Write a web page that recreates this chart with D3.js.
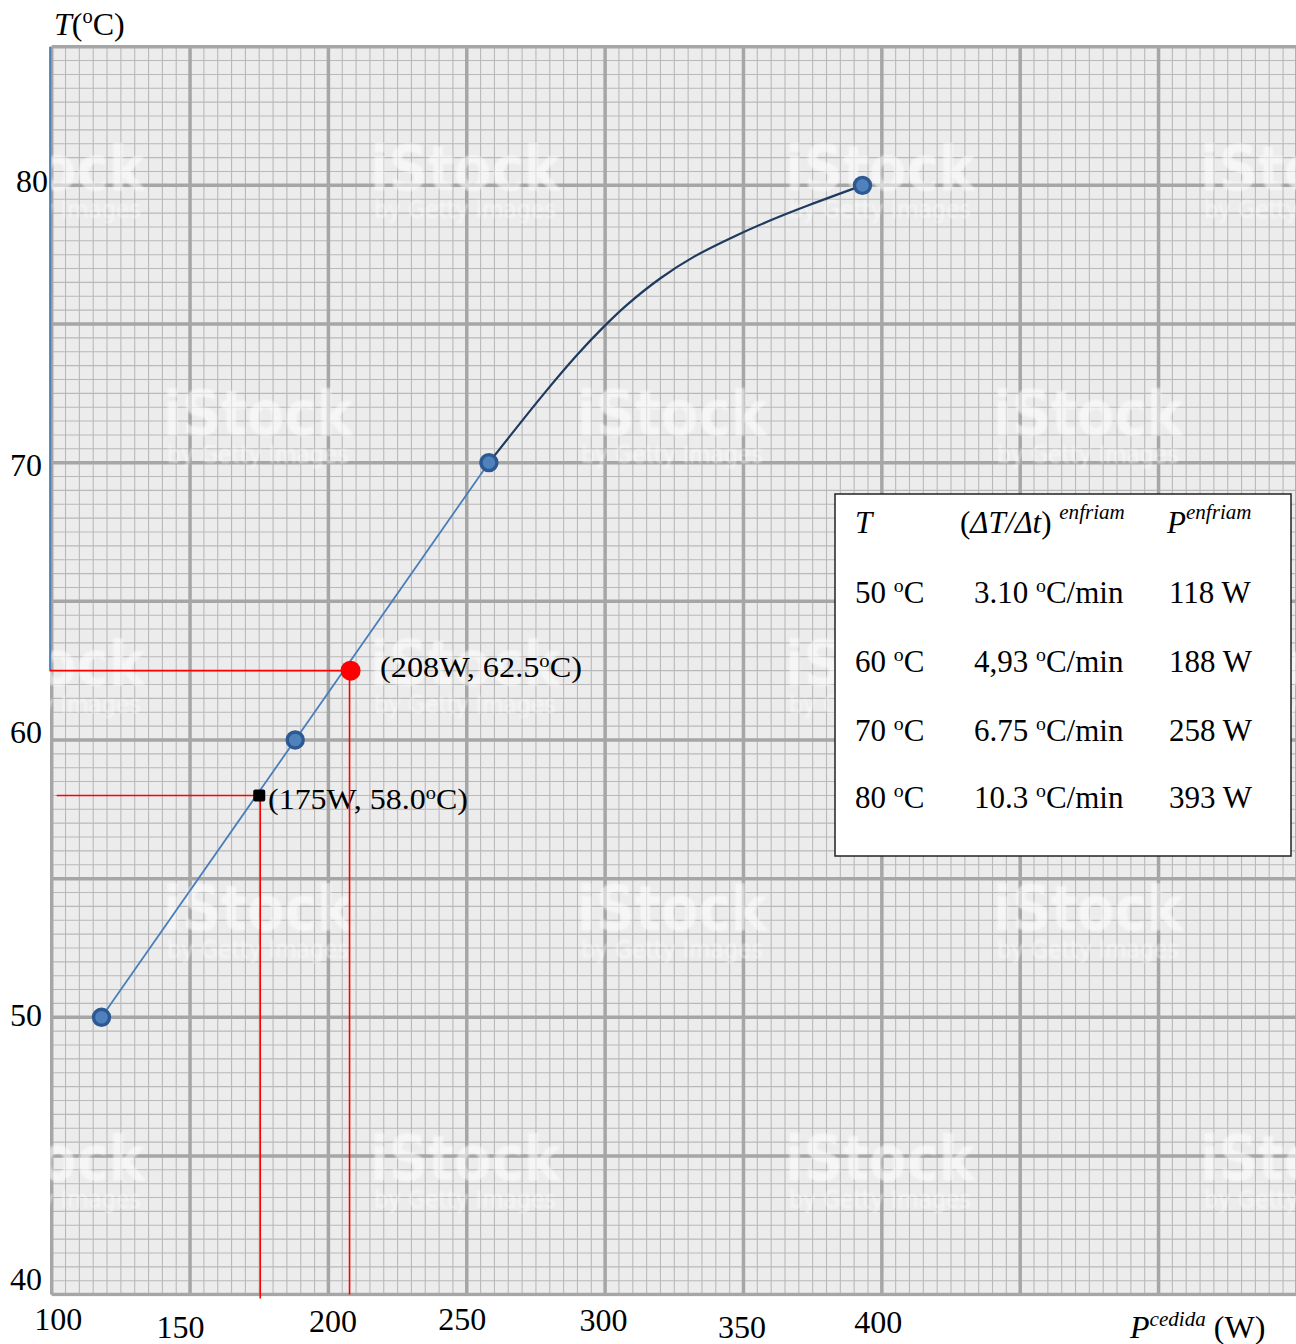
<!DOCTYPE html>
<html>
<head>
<meta charset="utf-8">
<script src="https://cdn.jsdelivr.net/npm/d3@7/dist/d3.min.js"></script>
<style>
  html, body { margin: 0; padding: 0; background: #ffffff; }
  svg { display: block; font-family: "Liberation Serif", "Times New Roman", serif; }
</style>
</head>
<body>
<svg id="chart" width="1296" height="1344"></svg>
<script>
// Measured cooling data: temperature vs. cooling power
const tempC = [50, 60, 70, 80];
const powerW = [118, 188, 258, 393];
const rateCmin = ["3.10", "4,93", "6.75", "10.3"];

// Smooth fitted curve between 70 ºC and 80 ºC
const fitPowerW = [258, 278, 290, 300, 308, 320, 332, 348, 362, 374, 393];
const fitTempC = [70, 72.5, 73.9, 74.95, 75.7, 76.65, 77.42, 78.22, 78.83, 79.3, 80];

// Read-off points
const guidePowerW = [208, 175];
const guideTempC = [62.5, 58.0];

// Axis ticks
const xTickValues = [100, 150, 200, 250, 300, 350, 400];
const yTickValues = [40, 50, 60, 70, 80];

// Hand placement of tick labels (layout only)
const xLabelDx = [6, -10, 4, -5, -2, -2, -4];
const xLabelDy = [35, 43, 37, 35, 36, 43, 38];
const yLabelRight = [42, 42, 42, 42, 48];
const yLabelDy = [-5, 8, 3, 13, 6];

const svg = d3.select("#chart");

const x = d3.scaleLinear().domain([100, 550]).range([51.7, 1296.9]);
const y = d3.scaleLinear().domain([40, 85]).range([1294.6, 46.7]);

const pL = x(100), pR = x(550), pT = y(85), pB = y(40);

// ---- graph paper ----
const defs = svg.append("defs");
defs.append("clipPath").attr("id", "plotClip")
  .append("rect").attr("x", pL - 2).attr("y", pT - 2)
  .attr("width", pR - pL + 4).attr("height", pB - pT + 4);
defs.append("filter").attr("id", "soft")
  .append("feGaussianBlur").attr("stdDeviation", 0.9);

const paper = svg.append("g").attr("clip-path", "url(#plotClip)");
paper.append("rect")
  .attr("x", pL).attr("y", pT)
  .attr("width", pR - pL).attr("height", pB - pT)
  .attr("fill", "#ececec");

const minorX = d3.range(100, 551, 5);
const minorY = d3.range(40, 85.01, 0.5);
paper.append("g").selectAll("line").data(minorX).join("line")
  .attr("x1", d => x(d)).attr("x2", d => x(d))
  .attr("y1", pT).attr("y2", pB)
  .attr("stroke", "#b9b9b9").attr("stroke-width", 1.1);
paper.append("g").selectAll("line").data(minorY).join("line")
  .attr("y1", d => y(d)).attr("y2", d => y(d))
  .attr("x1", pL).attr("x2", pR)
  .attr("stroke", "#b9b9b9").attr("stroke-width", 1.1);

const majorX = d3.range(100, 551, 50);
const majorY = d3.range(40, 85.01, 5);
paper.append("g").selectAll("line").data(majorX).join("line")
  .attr("x1", d => x(d)).attr("x2", d => x(d))
  .attr("y1", pT).attr("y2", pB)
  .attr("stroke", "#a6a6a6").attr("stroke-width", 3.5);
paper.append("g").selectAll("line").data(majorY).join("line")
  .attr("y1", d => y(d)).attr("y2", d => y(d))
  .attr("x1", pL).attr("x2", pR)
  .attr("stroke", "#a6a6a6").attr("stroke-width", 3.5);

// watermark lattice on the paper
const wmRows = [
  { base: 190, cx: [50, 465, 880, 1295] },
  { base: 435, cx: [258, 672, 1088] },
  { base: 685, cx: [50, 465, 880, 1295] },
  { base: 930, cx: [258, 672, 1088] },
  { base: 1180, cx: [50, 465, 880, 1295] }
];
const wm = paper.append("g").attr("filter", "url(#soft)")
  .attr("font-family", "'DejaVu Sans', 'Liberation Sans', sans-serif")
  .attr("fill", "#ffffff").attr("opacity", 0.55).attr("text-anchor", "middle");
wmRows.forEach(r => r.cx.forEach(cx => {
  wm.append("text").attr("x", cx).attr("y", r.base)
    .attr("font-size", 62).attr("font-weight", "bold")
    .attr("textLength", 190).attr("lengthAdjust", "spacingAndGlyphs")
    .text("iStock");
  wm.append("text").attr("x", cx).attr("y", r.base + 28)
    .attr("font-size", 24)
    .attr("textLength", 182).attr("lengthAdjust", "spacingAndGlyphs")
    .text("by Getty Images");
}));

// left axis line (blue part above the 62.5 ºC read-off)
svg.append("line")
  .attr("x1", pL - 1.5).attr("x2", pL - 1.5)
  .attr("y1", pT).attr("y2", y(guideTempC[0]))
  .attr("stroke", "#4f81bd").attr("stroke-width", 2.2);

// ---- rich text helper (italic, superscript runs) ----
function rich(sel, parts, size) {
  let shift = 0;
  parts.forEach(p => {
    const ts = sel.append("tspan").text(p.t);
    const target = p.sup ? -(p.supShift || 0.38) * size : 0;
    if (target !== shift) { ts.attr("dy", target - shift); shift = target; }
    if (p.sup) ts.attr("font-size", (p.supScale || 0.62) * size);
    if (p.it) ts.attr("font-style", "italic");
  });
  return sel;
}
const deg = { t: "o", sup: true, supScale: 0.64, supShift: 0.36 };

// ---- axes ----
const xAxis = svg.append("g")
  .attr("transform", `translate(0,${pB})`)
  .call(d3.axisBottom(x).tickValues(xTickValues).tickSize(0).tickFormat(d3.format("d")));
xAxis.select(".domain").remove();
xAxis.selectAll(".tick text")
  .attr("font-family", "'Liberation Serif', 'Times New Roman', serif")
  .attr("font-size", 32).attr("fill", "#000")
  .attr("dy", null)
  .attr("x", (d, i) => xLabelDx[i])
  .attr("y", (d, i) => xLabelDy[i]);

const yAxis = svg.append("g")
  .call(d3.axisLeft(y).tickValues(yTickValues).tickSize(0).tickFormat(d3.format("d")));
yAxis.select(".domain").remove();
yAxis.selectAll(".tick text")
  .attr("font-family", "'Liberation Serif', 'Times New Roman', serif")
  .attr("font-size", 32).attr("fill", "#000")
  .attr("text-anchor", "end")
  .attr("dy", null)
  .attr("x", (d, i) => yLabelRight[i])
  .attr("y", (d, i) => yLabelDy[i]);

// axis titles
rich(svg.append("text").attr("x", 54).attr("y", 35).attr("font-size", 32),
  [{ t: "T", it: true }, { t: "(" }, deg, { t: "C)" }], 32);
rich(svg.append("text").attr("x", 1130).attr("y", 1338).attr("font-size", 32),
  [{ t: "P", it: true }, { t: "cedida", it: true, sup: true, supScale: 0.66, supShift: 0.36 }, { t: " (W)" }], 32);

// ---- data series ----
const pts = powerW.map((p, i) => ({ p, t: tempC[i] }));
const fit = fitPowerW.map((p, i) => ({ p, t: fitTempC[i] }));

svg.append("path")
  .datum(pts.slice(0, 3))
  .attr("d", d3.line().x(d => x(d.p)).y(d => y(d.t)))
  .attr("fill", "none").attr("stroke", "#4a7ebb").attr("stroke-width", 1.8);

svg.append("path")
  .datum(fit)
  .attr("d", d3.line().x(d => x(d.p)).y(d => y(d.t)).curve(d3.curveCatmullRom.alpha(0.5)))
  .attr("fill", "none").attr("stroke", "#1f3a5f").attr("stroke-width", 2.2);

// ---- annotations ----
const annText = [
  { x: 380, y: 677, len: 202, parts: [{ t: "(208W, 62.5" }, deg, { t: "C)" }] },
  { x: 268, y: 809, len: 200, parts: [{ t: "(175W, 58.0" }, deg, { t: "C)" }] }
];
annText.forEach(a => {
  rich(svg.append("text").attr("x", a.x).attr("y", a.y).attr("font-size", 29)
    .attr("textLength", a.len).attr("lengthAdjust", "spacingAndGlyphs"), a.parts, 29);
});

// read-off guide lines
const red = "#ff0000";
svg.append("line")
  .attr("x1", pL - 2).attr("x2", x(guidePowerW[0]))
  .attr("y1", y(guideTempC[0])).attr("y2", y(guideTempC[0]))
  .attr("stroke", red).attr("stroke-width", 1.6);
svg.append("line")
  .attr("x1", x(guidePowerW[0]) - 1).attr("x2", x(guidePowerW[0]) - 1)
  .attr("y1", y(guideTempC[0])).attr("y2", pB)
  .attr("stroke", red).attr("stroke-width", 1.6);
svg.append("line")
  .attr("x1", pL + 5).attr("x2", x(guidePowerW[1]))
  .attr("y1", y(guideTempC[1])).attr("y2", y(guideTempC[1]))
  .attr("stroke", red).attr("stroke-width", 1.6);
svg.append("line")
  .attr("x1", x(guidePowerW[1]) + 1).attr("x2", x(guidePowerW[1]) + 1)
  .attr("y1", y(guideTempC[1])).attr("y2", pB + 4)
  .attr("stroke", red).attr("stroke-width", 1.6);

// data markers
svg.append("g").selectAll("circle").data(pts).join("circle")
  .attr("cx", d => x(d.p)).attr("cy", d => y(d.t)).attr("r", 8)
  .attr("fill", "#4f81bd").attr("stroke", "#2d5891").attr("stroke-width", 3.4);

// read-off markers
svg.append("circle")
  .attr("cx", x(guidePowerW[0])).attr("cy", y(guideTempC[0])).attr("r", 10)
  .attr("fill", red);
svg.append("rect")
  .attr("x", x(guidePowerW[1]) - 6).attr("y", y(guideTempC[1]) - 6)
  .attr("width", 12).attr("height", 12).attr("rx", 2)
  .attr("fill", "#000");

// ---- data table ----
const tbl = svg.append("g");
tbl.append("rect")
  .attr("x", 835).attr("y", 494).attr("width", 456).attr("height", 362)
  .attr("fill", "#ffffff").attr("stroke", "#222").attr("stroke-width", 1.5);

const fs = 31;
const colX = [855, 974, 1169];
rich(tbl.append("text").attr("x", colX[0]).attr("y", 533).attr("font-size", fs),
  [{ t: "T", it: true }], fs);
rich(tbl.append("text").attr("x", 960).attr("y", 533).attr("font-size", fs),
  [{ t: "(" }, { t: "ΔT/Δt", it: true }, { t: ") " },
   { t: "enfriam", it: true, sup: true, supScale: 0.68, supShift: 0.45 }], fs);
rich(tbl.append("text").attr("x", 1167).attr("y", 533).attr("font-size", fs),
  [{ t: "P", it: true }, { t: "enfriam", it: true, sup: true, supScale: 0.68, supShift: 0.45 }], fs);

const rowY = [603, 672, 741, 808];
tempC.forEach((t, i) => {
  rich(tbl.append("text").attr("x", colX[0]).attr("y", rowY[i]).attr("font-size", fs),
    [{ t: `${t} ` }, deg, { t: "C" }], fs);
  rich(tbl.append("text").attr("x", colX[1]).attr("y", rowY[i]).attr("font-size", fs),
    [{ t: `${rateCmin[i]} ` }, deg, { t: "C/min" }], fs);
  tbl.append("text").attr("x", colX[2]).attr("y", rowY[i]).attr("font-size", fs)
    .text(`${powerW[i]} W`);
});
</script>
</body>
</html>
